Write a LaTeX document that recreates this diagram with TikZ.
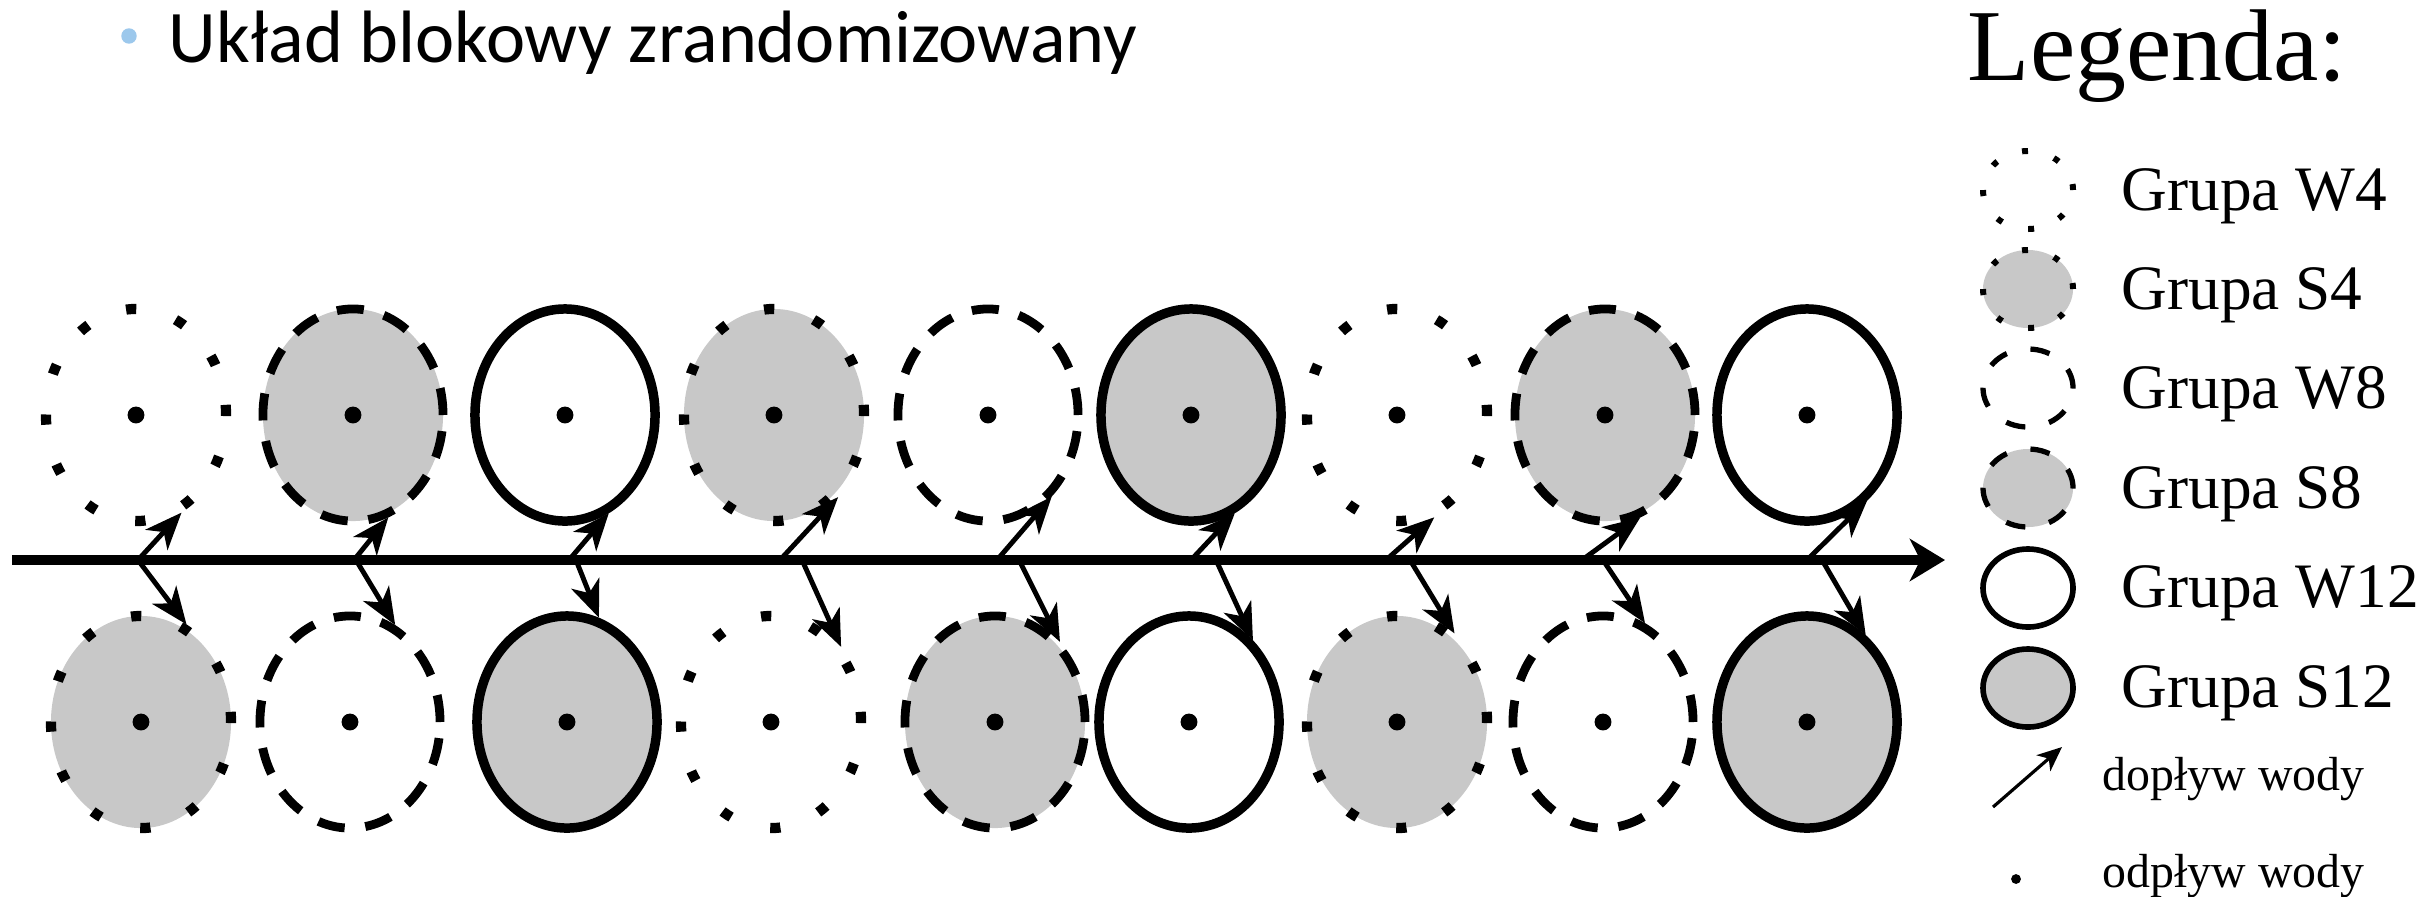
\documentclass[tikz,border=0pt]{standalone}
\usepackage{fontspec}
\setmainfont{Liberation Serif}
\newfontfamily\headfont{Carlito}
\usetikzlibrary{arrows.meta,shapes.geometric}

\definecolor{plotgrey}{HTML}{C8C8C8}
\definecolor{bulletblue}{HTML}{9CC8EC}

\tikzset{
  % field plots (main scheme)
  plot/.style={ellipse, draw, minimum width=1.8cm, minimum height=2.12cm, inner sep=0pt},
  dotsline/.style={line width=2.9pt, dash pattern=on 2.9pt off 11.7pt},
  dashline/.style={line width=2.5pt, dash pattern=on 7.7pt off 5.9pt},
  fullline/.style={line width=2.7pt},
  W4/.style={plot, dotsline},
  S4/.style={plot, dotsline, fill=plotgrey},
  W8/.style={plot, dashline},
  S8/.style={plot, dashline, fill=plotgrey},
  W12/.style={plot, fullline},
  S12/.style={plot, fullline, fill=plotgrey},
  % legend symbols
  lplot/.style={ellipse, draw, minimum width=0.9cm, minimum height=0.78cm, inner sep=0pt},
  ldots/.style={line width=1.7pt, dash pattern=on 1.7pt off 7.7pt},
  ldash/.style={line width=1.5pt, dash pattern=on 5.6pt off 6.9pt},
  lfull/.style={line width=1.6pt},
  axisline/.style={line width=2.6pt, -{Stealth[length=10pt,width=12pt,inset=3pt]}},
  flow/.style={line width=1.4pt, -{Stealth[length=10.5pt,width=8.5pt,inset=3pt]}},
  legtext/.style={anchor=base west, inner sep=0pt, font=\fontsize{18}{21}\selectfont},
  smalltext/.style={anchor=base west, inner sep=0pt, font=\fontsize{13.6}{16}\selectfont},
}

\begin{document}
\begin{tikzpicture}[x=0.01cm, y=-0.01cm]
\useasboundingbox (0,0) rectangle (2428,896);

% heading
\node[circle, fill=bulletblue, minimum size=4.4pt, inner sep=0pt] (bullet) at (129,36) {};
\node[anchor=base west, inner sep=0pt, font=\headfont\fontsize{21.1}{24}\selectfont] (title) at (168,62) {Układ blokowy zrandomizowany};

% upper row of plots
\node[W4]  (t1) at (136,415) {};
\node[S8]  (t2) at (353,415) {};
\node[W12] (t3) at (565,415) {};
\node[S4]  (t4) at (774,415) {};
\node[W8]  (t5) at (988,415) {};
\node[S12] (t6) at (1191,415) {};
\node[W4]  (t7) at (1397,415) {};
\node[S8]  (t8) at (1605,415) {};
\node[W12] (t9) at (1807,415) {};

% lower row of plots
\node[S4]  (b1) at (141,722) {};
\node[W8]  (b2) at (350,722) {};
\node[S12] (b3) at (567,722) {};
\node[W4]  (b4) at (771,722) {};
\node[S8]  (b5) at (995,722) {};
\node[W12] (b6) at (1189,722) {};
\node[S4]  (b7) at (1397,722) {};
\node[W8]  (b8) at (1603,722) {};
\node[S12] (b9) at (1807,722) {};

% outflow points
\foreach \i in {1,...,9} {
  \fill (t\i.center) circle (2.4pt);
  \fill (b\i.center) circle (2.4pt);
}

% main water channel
\coordinate (axL) at (12,560);
\coordinate (axR) at (1945,560);
\draw[axisline] (axL) -- (axR);

% inflows from the channel
\foreach \i/\ux/\ua/\dx/\da in {1/138/-65.6/138/65, 2/354/-71/356/65, 3/569/-66/576/73,
    4/780/-52/802/47, 5/997/-52/1019/51, 6/1191/-66/1216/52,
    7/1386/-70/1410/57, 8/1582/-71/1603/67, 9/1807/-55/1822/56} {
  \coordinate (in\i) at (\ux,560);
  \coordinate (out\i) at (\dx,560);
  \draw[flow] (in\i) -- (t\i.\ua);
  \draw[flow] (out\i) -- (b\i.\da);
}

% legend
\node[anchor=base west, inner sep=0pt, font=\fontsize{29}{32}\selectfont] (legtitle) at (1967,80) {Legenda:};

\node[lplot, ldots] (lW4) at (2028,190) {};
\node[lplot, ldots, fill=plotgrey] (lS4) at (2028,289) {};
\node[lplot, ldash] (lW8) at (2028,388) {};
\node[lplot, ldash, fill=plotgrey] (lS8) at (2028,488) {};
\node[lplot, lfull] (lW12) at (2028,588) {};
\node[lplot, lfull, fill=plotgrey] (lS12) at (2028,688) {};

\node[legtext] (tW4)  at (2121,210) {Grupa W4};
\node[legtext] (tS4)  at (2121,309) {Grupa S4};
\node[legtext] (tW8)  at (2121,408) {Grupa W8};
\node[legtext] (tS8)  at (2121,508) {Grupa S8};
\node[legtext] (tW12) at (2121,607) {Grupa W12};
\node[legtext] (tS12) at (2121,707) {Grupa S12};

\coordinate (lfrom) at (1993,807);
\coordinate (lto) at (2062,747);
\draw[line width=0.9pt, -{Stealth[length=7pt,width=6pt,inset=2pt]}] (lfrom) -- (lto);
\node[smalltext] (tin) at (2102,790) {dopływ wody};

\node[circle, fill, minimum size=2.8pt, inner sep=0pt] (ldot) at (2016,879) {};
\node[smalltext] (tout) at (2102,887) {odpływ wody};
\end{tikzpicture}
\end{document}
